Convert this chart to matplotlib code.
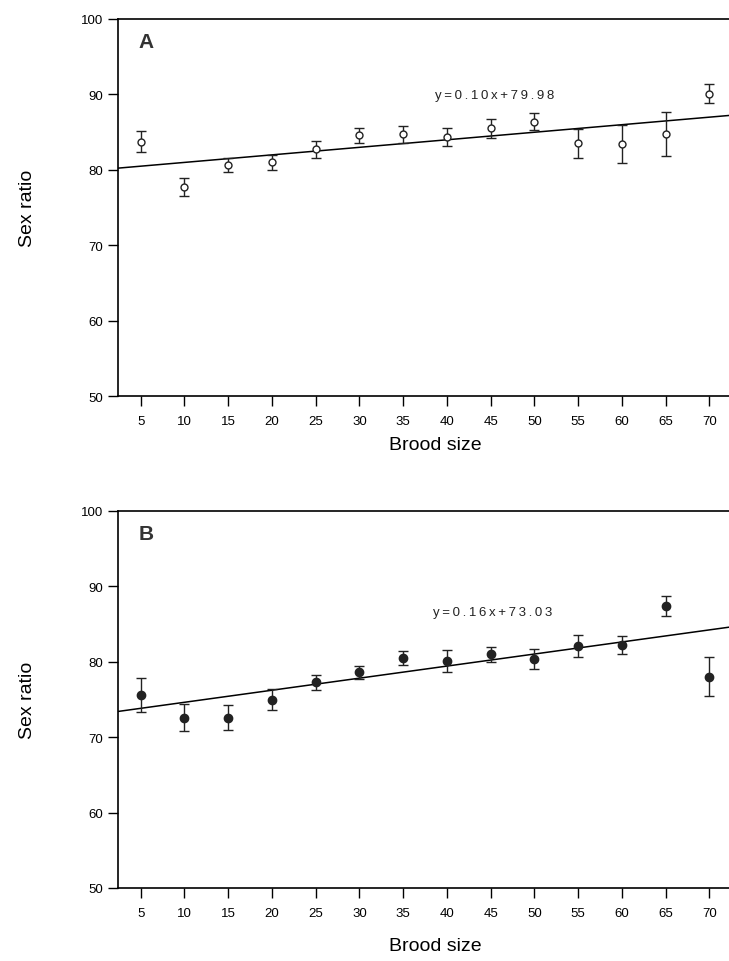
import numpy as np
import matplotlib
matplotlib.use("Agg")
import matplotlib.pyplot as plt

plt.rcParams['font.family'] = ['Liberation Sans', 'DejaVu Sans']

# brood size classes
brood = [5, 10, 15, 20, 25, 30, 35, 40, 45, 50, 55, 60, 65, 70]
xticks = brood

# panel A: mean sex ratio and error
ratio_a = [83.7, 77.7, 80.6, 81.0, 82.7, 84.6, 84.7, 84.4, 85.5, 86.4, 83.5, 83.4, 84.7, 90.1]
err_a = [1.4, 1.2, 0.9, 1.0, 1.1, 1.0, 1.1, 1.2, 1.3, 1.1, 1.9, 2.5, 2.9, 1.3]
slope_a, icpt_a = 0.10, 79.98

# panel B
ratio_b = [75.6, 72.6, 72.6, 75.0, 77.3, 78.6, 80.5, 80.1, 81.0, 80.4, 82.1, 82.2, 87.4, 78.0]
err_b = [2.3, 1.8, 1.7, 1.4, 1.0, 0.9, 0.9, 1.4, 1.0, 1.3, 1.4, 1.2, 1.3, 2.6]
slope_b, icpt_b = 0.16, 73.03

fig = plt.figure(figsize=(7.29, 9.62), dpi=100)
W, H = 729, 962


def make_axes(top_px, bottom_px):
    left = 118 / W
    right = 753 / W
    return fig.add_axes([left, (H - bottom_px) / H, right - left, (bottom_px - top_px) / H])


def draw_panel(ax, y, e, slope, icpt, filled, label, eq_xy, xlabpad):
    xmin, xmax = 2.4, 75
    ax.set_xlim(xmin, xmax)
    ax.set_ylim(50, 100)
    xl = np.array([xmin, xmax])
    ax.plot(xl, slope * xl + icpt, color='black', lw=1.1, zorder=2)
    ax.errorbar(brood, y, yerr=e, fmt='o', ms=5 if not filled else 6,
                mfc='#222222' if filled else 'white', mec='#222222', mew=1.0,
                ecolor='#222222', elinewidth=1.0, capsize=3.5, capthick=1.0, zorder=3)
    ax.set_xticks(xticks)
    ax.set_yticks([50, 60, 70, 80, 90, 100])
    ax.tick_params(direction='out', length=7, width=1.0, labelsize=9.5, pad=4)
    ax.tick_params(axis='x', pad=7)
    for s in ['left', 'bottom', 'top']:
        ax.spines[s].set_linewidth(1.2)
    ax.spines['right'].set_visible(False)
    ax.set_xlabel('Brood size', fontsize=14, labelpad=xlabpad)
    ax.set_ylabel('Sex ratio', fontsize=14, labelpad=32)
    ax.text(0.033, 0.94, label, transform=ax.transAxes, fontsize=15,
            fontweight='bold', color='#333333', ha='left', va='center')
    eq = 'y=0.%sx+%.2f' % (('%.2f' % slope)[2:], icpt)
    ax.text(eq_xy[0], eq_xy[1], '\u2009'.join(eq), fontsize=9.5,
            ha='left', va='center', color='#222222')


ax_a = make_axes(20, 397)
draw_panel(ax_a, ratio_a, err_a, slope_a, icpt_a, False, 'A', (38.6, 89.9), 6)

ax_b = make_axes(512, 889)
draw_panel(ax_b, ratio_b, err_b, slope_b, icpt_b, True, 'B', (38.4, 86.6), 13)

fig.savefig('out.png', dpi=100)
